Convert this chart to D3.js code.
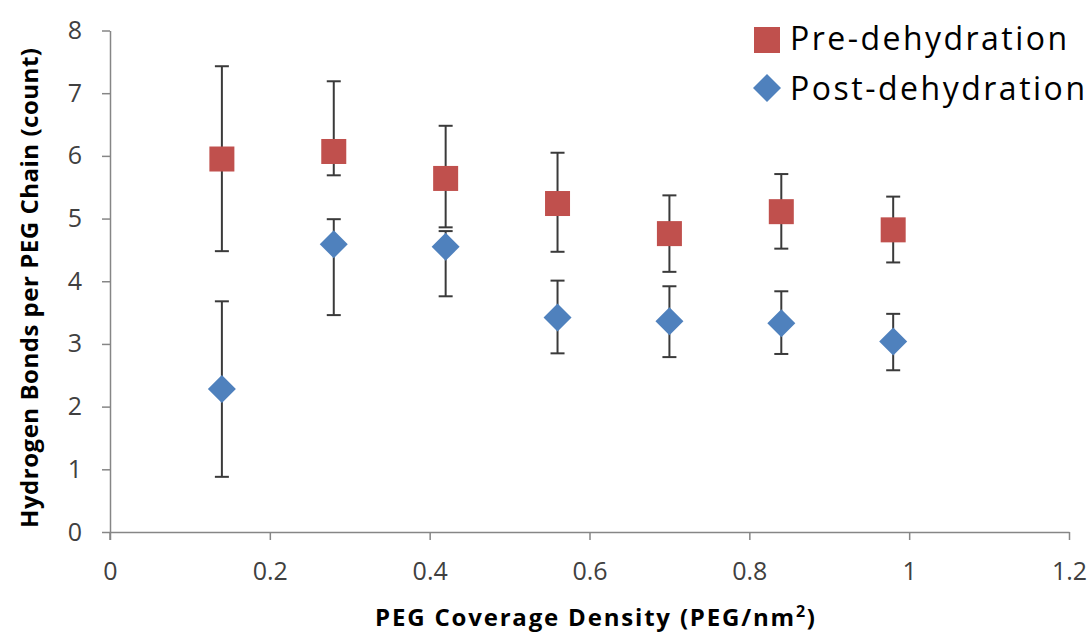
<!DOCTYPE html>
<html><head><meta charset="utf-8">
<script src="https://cdn.jsdelivr.net/npm/d3@7"></script>
<style>body{margin:0;background:#fff}svg{display:block}</style>
</head><body>
<svg id="c" width="1091" height="635"></svg>
<script>
const xValues = [0.14, 0.28, 0.42, 0.56, 0.70, 0.84, 0.98];
const preMean = [5.95, 6.07, 5.64, 5.24, 4.76, 5.11, 4.82];
const preLow  = [4.48, 5.69, 4.86, 4.47, 4.15, 4.52, 4.30];
const preHigh = [7.43, 7.19, 6.48, 6.05, 5.37, 5.71, 5.35];
const postMean = [2.28, 4.59, 4.55, 3.42, 3.36, 3.33, 3.04];
const postLow  = [0.88, 3.46, 3.76, 2.85, 2.79, 2.84, 2.58];
const postHigh = [3.68, 4.99, 4.80, 4.01, 3.92, 3.84, 3.48];
const xTicks = [0, 0.2, 0.4, 0.6, 0.8, 1, 1.2];
const yTicks = [0, 1, 2, 3, 4, 5, 6, 7, 8];
const seriesNames = ["Pre-dehydration", "Post-dehydration"];

const svg = d3.select("#c");
const x = d3.scaleLinear().domain([0, 1.2]).range([110, 1069]);
const y = d3.scaleLinear().domain([0, 8]).range([532, 30.5]);
const axisColor = "#868686", labelColor = "#404040";
const font = "'Open Sans', 'Noto Sans', sans-serif";

// axes
const xAxis = svg.append("g").attr("transform", `translate(0,${y(0)})`)
  .call(d3.axisBottom(x).tickValues(xTicks).tickFormat(d3.format("")).tickSize(8).tickSizeOuter(0));
const yAxis = svg.append("g").attr("transform", `translate(${x(0)},0)`)
  .call(d3.axisLeft(y).tickValues(yTicks).tickFormat(d3.format("d")).tickSize(8).tickSizeOuter(0));
[xAxis, yAxis].forEach(a => {
  a.select(".domain").attr("stroke", axisColor).attr("stroke-width", 1.5);
  a.selectAll(".tick line").attr("stroke", axisColor).attr("stroke-width", 1.5);
  a.selectAll(".tick text").attr("fill", labelColor).style("font-family", font).style("font-size", "25px");
});
xAxis.selectAll(".tick text").attr("dy", "0.71em").attr("y", 30);
yAxis.selectAll(".tick text").attr("x", -28);
// extend y axis tick at 0 below
svg.append("line").attr("x1", x(0)).attr("x2", x(0)).attr("y1", y(0)).attr("y2", y(0) + 8)
  .attr("stroke", axisColor).attr("stroke-width", 1.5);

// axis titles
const xt = svg.append("text").attr("x", 595).attr("y", 626).attr("text-anchor", "middle")
  .style("font-family", font).style("font-size", "24px").style("font-weight", "bold").attr("fill", "#000")
  .attr("textLength", 440).attr("lengthAdjust", "spacing");
xt.append("tspan").text("PEG Coverage Density (PEG/nm");
xt.append("tspan").text("2").attr("dy", -9).style("font-size", "16px");
xt.append("tspan").text(")").attr("dy", 9);

svg.append("text").attr("transform", `translate(38,288) rotate(-90)`).attr("text-anchor", "middle")
  .style("font-family", font).style("font-size", "24px").style("font-weight", "bold").attr("fill", "#000")
  .attr("textLength", 480).attr("lengthAdjust", "spacing")
  .text("Hydrogen Bonds per PEG Chain (count)");

// error bars
function errorBars(lo, hi) {
  const g = svg.append("g").attr("stroke", "#3a3a3a").attr("stroke-width", 2);
  xValues.forEach((xv, i) => {
    g.append("line").attr("x1", x(xv)).attr("x2", x(xv)).attr("y1", y(lo[i])).attr("y2", y(hi[i]));
    g.append("line").attr("x1", x(xv) - 7).attr("x2", x(xv) + 7).attr("y1", y(lo[i])).attr("y2", y(lo[i]));
    g.append("line").attr("x1", x(xv) - 7).attr("x2", x(xv) + 7).attr("y1", y(hi[i])).attr("y2", y(hi[i]));
  });
}
errorBars(preLow, preHigh);
errorBars(postLow, postHigh);

const red = "#c0504d", blue = "#4f81bd";
const sq = 25, dm = 14;
svg.append("g").selectAll("rect").data(preMean).join("rect")
  .attr("x", (d, i) => x(xValues[i]) - sq / 2).attr("y", d => y(d) - sq / 2)
  .attr("width", sq).attr("height", sq).attr("fill", red);
svg.append("g").selectAll("path").data(postMean).join("path")
  .attr("d", (d, i) => {
    const cx = x(xValues[i]), cy = y(d);
    return `M${cx},${cy - dm}L${cx + dm},${cy}L${cx},${cy + dm}L${cx - dm},${cy}Z`;
  }).attr("fill", blue);

// legend
const lg = svg.append("g");
lg.append("rect").attr("x", 754).attr("y", 27).attr("width", 26).attr("height", 26).attr("fill", red);
lg.append("path").attr("d", "M767,74L781,88L767,102L753,88Z").attr("fill", blue);
lg.append("text").attr("x", 790).attr("y", 50).text(seriesNames[0])
  .style("font-family", font).style("font-size", "32px").attr("fill", "#000").attr("textLength", 277);
lg.append("text").attr("x", 790).attr("y", 100).text(seriesNames[1])
  .style("font-family", font).style("font-size", "32px").attr("fill", "#000").attr("textLength", 295);
</script>
</body></html>
